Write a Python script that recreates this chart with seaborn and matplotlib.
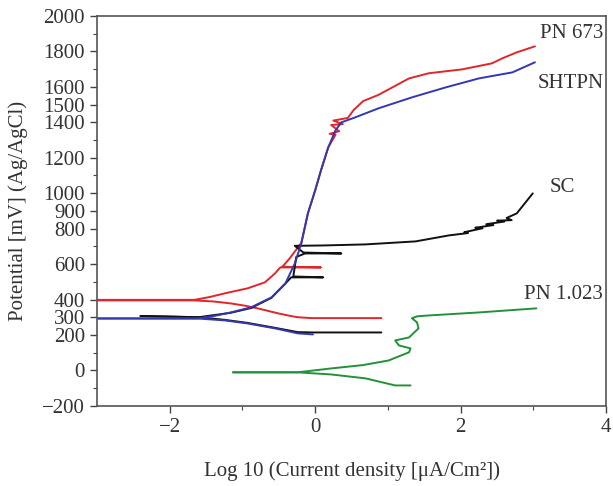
import matplotlib
matplotlib.use("Agg")
import matplotlib.pyplot as plt
import seaborn as sns
from matplotlib.ticker import FixedLocator

# PN 673 (red)
red_cat_x = [-3.0, -1.66, -1.4, -1.16, -0.95, -0.79, -0.51, -0.35, -0.24, -0.05, 0.91]
red_cat_y = [395, 395, 389, 378, 364, 350, 322, 308, 300, 295, 295]
red_an_x = [-3.0, -1.66, -1.45, -1.24, -0.93, -0.69, -0.55, -0.48, 0.08, -0.45, -0.35, -0.19, -0.1,
            0.0, 0.08, 0.18, 0.28, 0.20, 0.33, 0.22, 0.38, 0.25, 0.45, 0.53, 0.66, 0.87, 1.29, 1.56,
            2.02, 2.43, 2.57, 2.77, 3.02]
red_an_y = [398, 398, 414, 435, 463, 497, 548, 581, 581, 585, 632, 720, 886, 1016, 1129, 1259,
            1330, 1335, 1350, 1385, 1390, 1410, 1425, 1470, 1520, 1555, 1648, 1677, 1699, 1733,
            1761, 1795, 1829]

# SHTPN (blue)
blue_cat_x = [-3.0, -1.62, -1.24, -0.93, -0.55, -0.24, -0.03]
blue_cat_y = [293, 293, 282, 265, 237, 209, 203]
blue_an_x = [-3.0, -1.62, -1.4, -1.16, -0.88, -0.6, -0.41, -0.28, -0.19, -0.1, 0.0, 0.08, 0.18,
             0.28, 0.36, 0.55, 0.87, 1.33, 1.8, 2.25, 2.71, 3.02]
blue_an_y = [293, 293, 306, 327, 356, 412, 490, 603, 717, 886, 1016, 1129, 1259, 1355, 1400, 1428,
             1479, 1541, 1598, 1648, 1682, 1739]

# SC (black)
black_cat_x = [-2.4, -1.6, -1.24, -0.93, -0.55, -0.24, -0.03, 0.91]
black_cat_y = [307, 300, 285, 268, 240, 216, 214, 214]
black_an_x = [-2.4, -1.6, -1.16, -0.88, -0.6, -0.41, -0.33, 0.11, -0.3, -0.26, -0.14, 0.36, -0.16,
              -0.28, 0.1, 0.69, 1.38, 1.84, 2.0, 2.1, 2.05, 2.3, 2.2, 2.45, 2.35, 2.6, 2.5, 2.7,
              2.63, 2.77, 2.99]
black_an_y = [307, 300, 325, 352, 410, 490, 525, 525, 530, 640, 660, 660, 665, 703, 705, 711, 728,
              762, 770, 775, 780, 802, 805, 820, 825, 840, 845, 848, 860, 886, 999]

# PN 1.023 (green)
green_cat_x = [-1.13, -0.24, 0.22, 0.69, 1.1, 1.31]
green_cat_y = [-11, -11, -23, -45, -85, -85]
green_an_x = [-1.13, -0.24, 0.22, 0.66, 1.01, 1.29, 1.31, 1.15, 1.1, 1.29, 1.42, 1.4, 1.33, 1.40,
              1.56, 2.25, 3.04]
green_an_y = [-11, -11, 11, 30, 56, 102, 124, 141, 169, 186, 237, 271, 294, 305, 310, 327, 350]

labels = ["PN 673", "SHTPN", "SC", "PN 1.023"]
label_x = [3.96, 3.96, 3.57, 3.96]
label_y = [1902, 1620, 1033, 429]

yticks = [-200, 0, 200, 300, 400, 600, 800, 900, 1000, 1200, 1400, 1500, 1600, 1800, 2000]
xticks = [-2, 0, 2, 4]

sns.set_theme(style="ticks")
plt.rcParams["font.family"] = ["Liberation Serif", "DejaVu Serif"]

fig, ax = plt.subplots(figsize=(6.13, 4.86), dpi=100)
fig.subplots_adjust(left=0.158, right=0.989, bottom=0.165, top=0.967)

series = [
    (red_cat_x, red_cat_y, "#e0262a"),
    (red_an_x, red_an_y, "#e0262a"),
    (black_cat_x, black_cat_y, "#111111"),
    (black_an_x, black_an_y, "#111111"),
    (blue_cat_x, blue_cat_y, "#3338b0"),
    (blue_an_x, blue_an_y, "#3338b0"),
    (green_cat_x, green_cat_y, "#23913a"),
    (green_an_x, green_an_y, "#23913a"),
]
for xs, ys, c in series:
    sns.lineplot(x=xs, y=ys, sort=False, estimator=None, color=c, lw=1.4, ax=ax)

for t, tx, ty in zip(labels, label_x, label_y):
    ax.text(tx, ty, t, ha="right", va="center", fontsize=15, color="#333333")

ax.set_xlim(-3, 4)
ax.set_ylim(-200, 2000)
ax.set_xticks(xticks)
ax.set_xticklabels(["\u22122", "0", "2", "4"])
ax.set_yticks(yticks)
ax.set_yticklabels([str(v).replace("-", "\u2212") for v in yticks])
ax.xaxis.set_minor_locator(FixedLocator([-1, 1, 3]))
ax.yaxis.set_minor_locator(FixedLocator(range(-200, 2001, 100)))
ax.tick_params(which="major", direction="out", length=5, width=1.0, labelsize=15,
               colors="#444444", labelcolor="#333333")
ax.tick_params(which="minor", direction="out", length=3, width=0.8, colors="#444444")
for s in ax.spines.values():
    s.set_visible(True)
    s.set_color("#555555")
    s.set_linewidth(1.2)

ax.set_xlabel("Log 10 (Current density [\u03bcA/Cm\u00b2])", fontsize=15, color="#333333", labelpad=18)
ax.set_ylabel("Potential [mV] (Ag/AgCl)", fontsize=15, color="#333333", labelpad=10)

fig.savefig("out.png", dpi=100)
